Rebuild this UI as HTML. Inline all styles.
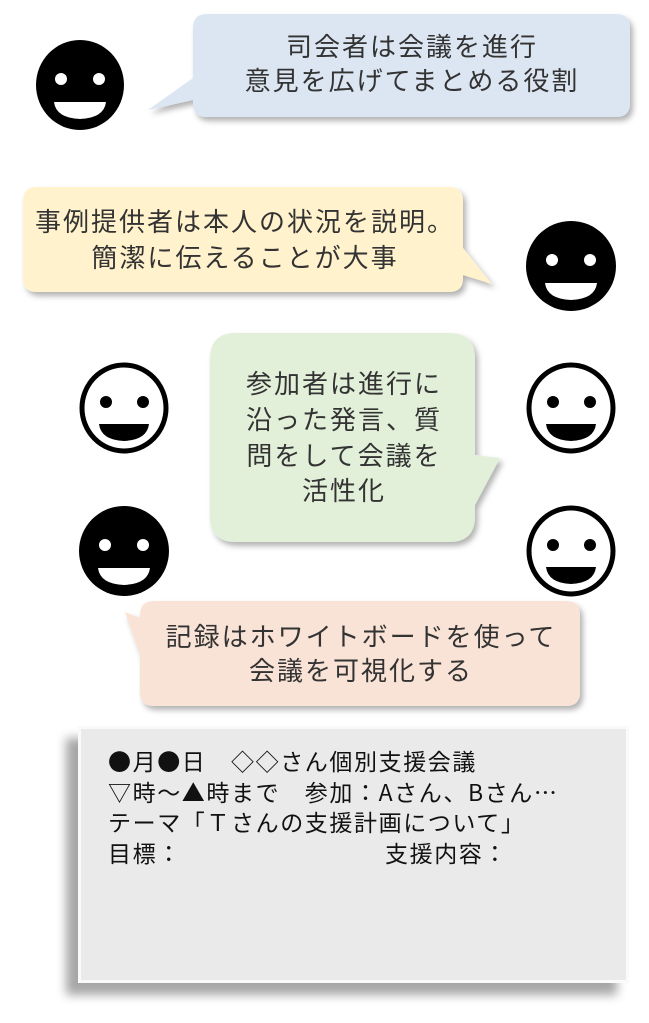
<!DOCTYPE html>
<html><head><meta charset="utf-8"><style>
html,body{margin:0;padding:0;background:#fff;}
svg{display:block;}
text{font-family:"Liberation Sans","Noto Sans CJK JP",sans-serif;fill:#333;font-size:26px;letter-spacing:2px;}
.b{font-family:"Noto Sans CJK JP",sans-serif;font-size:23px;letter-spacing:1.6px;fill:#111;}
</style></head><body>
<svg width="649" height="1023" viewBox="0 0 649 1023" xmlns="http://www.w3.org/2000/svg">
<defs>
<filter id="sh" x="-10%" y="-10%" width="130%" height="130%"><feDropShadow dx="3" dy="4" stdDeviation="3" flood-color="#000" flood-opacity="0.3"/></filter>
<filter id="sh2" x="-15%" y="-15%" width="130%" height="140%"><feDropShadow dx="-12" dy="12" stdDeviation="5" flood-color="#000" flood-opacity="0.35"/></filter>
</defs>

<path filter="url(#sh)" fill="#dce6f2" d="M207,14 H616 Q630,14 630,28 V103 Q630,117 616,117 H207 Q193,117 193,103 V100 L148,110 L193,78 V28 Q193,14 207,14 Z"/>
<text x="412" y="56" text-anchor="middle">司会者は会議を進行</text>
<text x="412" y="90" text-anchor="middle">意見を広げてまとめる役割</text>

<ellipse cx="80" cy="85" rx="44" ry="45" fill="#000"/>
<circle cx="61" cy="79" r="6" fill="#fff"/><circle cx="99" cy="79" r="6" fill="#fff"/>
<path d="M54,102 H106 Q104,118 80,119 Q56,118 54,102 Z" fill="#fff"/>

<path filter="url(#sh)" fill="#fff2cc" d="M37,187 H449 Q463,187 463,201 V248 L492,284 L463,275 V278 Q463,292 449,292 H37 Q23,292 23,278 V201 Q23,187 37,187 Z"/>
<text x="245" y="231" text-anchor="middle">事例提供者は本人の状況を説明。</text>
<text x="245" y="267" text-anchor="middle">簡潔に伝えることが大事</text>

<ellipse cx="571" cy="266" rx="45" ry="45" fill="#000"/>
<circle cx="552" cy="260" r="6" fill="#fff"/><circle cx="590" cy="260" r="6" fill="#fff"/>
<path d="M545,283 H597 Q595,299 571,300 Q547,299 545,283 Z" fill="#fff"/>

<path filter="url(#sh)" fill="#e2efd9" d="M236,333 H449 Q475,333 475,359 V455 L500,458 L475,505 V516 Q475,542 449,542 H236 Q210,542 210,516 V359 Q210,333 236,333 Z"/>
<text x="344" y="393" text-anchor="middle">参加者は進行に</text>
<text x="344" y="429" text-anchor="middle">沿った発言、質</text>
<text x="344" y="465" text-anchor="middle">問をして会議を</text>
<text x="344" y="500" text-anchor="middle">活性化</text>

<g>
<ellipse cx="124" cy="408" rx="42" ry="43" fill="#fff" stroke="#000" stroke-width="5"/>
<circle cx="106" cy="402" r="6"/><circle cx="143" cy="402" r="6"/>
<path d="M99,424 H149 Q147,440 124,441 Q101,440 99,424 Z"/>
</g>
<g>
<ellipse cx="571" cy="408" rx="42" ry="43" fill="#fff" stroke="#000" stroke-width="5"/>
<circle cx="553" cy="402" r="6"/><circle cx="590" cy="402" r="6"/>
<path d="M546,424 H596 Q594,440 571,441 Q548,440 546,424 Z"/>
</g>
<g>
<ellipse cx="124" cy="551" rx="45" ry="45" fill="#000"/>
<circle cx="105" cy="545" r="6" fill="#fff"/><circle cx="143" cy="545" r="6" fill="#fff"/>
<path d="M98,568 H150 Q148,584 124,585 Q100,584 98,568 Z" fill="#fff"/>
</g>
<g>
<ellipse cx="571" cy="551" rx="42" ry="43" fill="#fff" stroke="#000" stroke-width="5"/>
<circle cx="553" cy="545" r="6"/><circle cx="590" cy="545" r="6"/>
<path d="M546,567 H596 Q594,583 571,584 Q548,583 546,567 Z"/>
</g>

<path filter="url(#sh)" fill="#f9e3d6" d="M154,601 H566 Q580,601 580,615 V692 Q580,706 566,706 H154 Q140,706 140,692 V655 L125,612 L140,618 V615 Q140,601 154,601 Z"/>
<text x="361" y="646" text-anchor="middle">記録はホワイトボードを使って</text>
<text x="361" y="680" text-anchor="middle">会議を可視化する</text>

<rect x="78" y="726" width="551" height="257" fill="#eaeaea" filter="url(#sh2)"/>
<rect x="79.5" y="727.5" width="548" height="254" fill="none" stroke="#fafafa" stroke-width="3"/>
<text class="b" x="108" y="770">●月●日　◇◇さん個別支援会議</text>
<text class="b" x="108" y="801">▽時～▲時まで　参加：Aさん、Bさん…</text>
<text class="b" x="108" y="831">テーマ「Ｔさんの支援計画について」</text>
<text class="b" x="108" y="862">目標：</text>
<text class="b" x="385" y="862">支援内容：</text>
</svg>
</body></html>
